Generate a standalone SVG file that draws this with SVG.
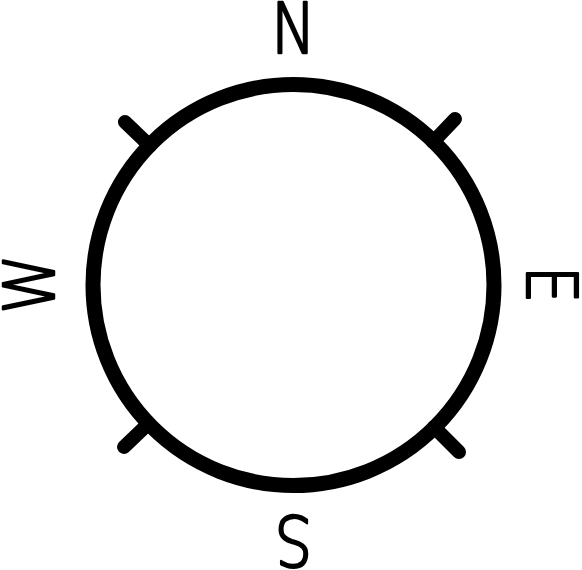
<svg xmlns="http://www.w3.org/2000/svg" width="582" height="570" viewBox="0 0 582 570">
<style>
.ring{fill:none;stroke:#000;stroke-width:15}
.tick{stroke:#000;stroke-width:14;stroke-linecap:round}
.lbl{font-family:"DejaVu Sans","Liberation Sans",sans-serif;font-weight:200;font-size:70px;fill:#000;stroke:#000;stroke-width:2.5;stroke-linejoin:round;stroke-linecap:round;text-anchor:middle}
</style>
<rect width="582" height="570" fill="#fff"/>
<g id="compass">
<circle class="ring" cx="293.5" cy="285" r="200.5"/>
</g>
<g id="ticks">
<line class="tick" x1="125" y1="122" x2="150" y2="146"/>
<line class="tick" x1="455" y1="119" x2="433" y2="142"/>
<line class="tick" x1="124" y1="447" x2="148.5" y2="423.5"/>
<line class="tick" x1="459" y1="452" x2="434" y2="427"/>
</g>
<g id="label-N"><text class="lbl" transform="translate(293.5,53) scale(0.85,1)">N</text></g>
<g id="label-E"><text class="lbl" transform="translate(527,284.5) rotate(90) scale(0.85,1)">E</text></g>
<g id="label-S"><text class="lbl" transform="translate(293.5,516) rotate(180) scale(0.85,1)">S</text></g>
<g id="label-W"><text class="lbl" transform="translate(54,284) rotate(-90) scale(0.85,1)">W</text></g>
</svg>
